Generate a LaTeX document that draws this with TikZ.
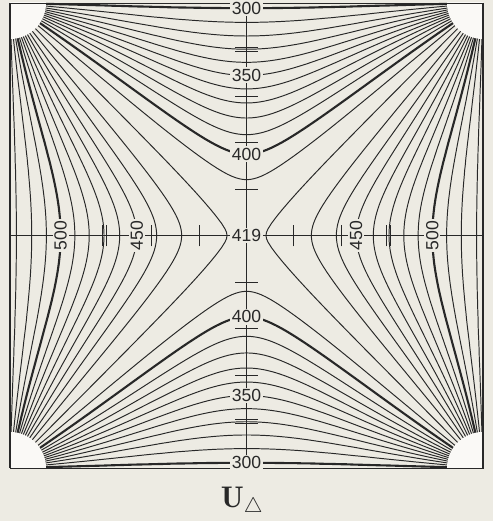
\documentclass[tikz,border=0pt]{standalone}
\usepackage{fontspec}
\setsansfont{Liberation Sans}
\definecolor{paper}{RGB}{237,235,227}
\definecolor{ink}{RGB}{40,40,40}
\definecolor{padwhite}{RGB}{250,249,246}
\tikzset{
  declare function={
    pp(\a,\t)=2*sin((\a+\t)/2)/sin(\a)*sin((\a-\t)/2);
    qq(\a,\t)=sin(\t)/sin(\a);
    rr(\a,\t)=sqrt(veclen(50*pp(\a,\t),50*qq(\a,\t))/50);
    hh(\a,\t)=tan(atan2(qq(\a,\t),pp(\a,\t))/2);
  },
  isoline/.style={draw=ink,line width=0.55pt},
  axisline/.style={draw=ink,line width=0.55pt},
  tickmark/.style={draw=ink,line width=0.55pt},
  value/.style={fill=paper,inner sep=1pt,text=ink,font=\sffamily\fontsize{10}{12}\selectfont}
}

\begin{document}
\begin{tikzpicture}[x=4.73cm,y=4.65cm]
  \fill[paper] (-1.0423,-1.228) rectangle (1.0423,1.0129);
  \useasboundingbox (-1.0423,-1.228) rectangle (1.0423,1.0129);
  % upper and lower lines, 300 ... 410
  \foreach \c in {300,310,...,410}{
    \pgfmathsetmacro\al{(419-\c)/245*180}
    \def\lw{0.55}
    \ifnum\c=300 \def\lw{1.2}\fi
    \ifnum\c=400 \def\lw{1.2}\fi
    \foreach \sg in {1,-1}
      \draw[isoline,line width=\lw pt] plot[domain=-0.985:0.985,samples=81,variable=\q]
        ({-rr(\al,\al*\q*abs(\q))*hh(\al,\al*\q*abs(\q))},{\sg*rr(\al,\al*\q*abs(\q))});
  }
  % left and right lines, 420 ... 530
  \foreach \c in {420,430,...,530}{
    \pgfmathsetmacro\al{(\c-419)/230*180}
    \def\lw{0.55}
    \ifnum\c=500 \def\lw{1.2}\fi
    \foreach \sg in {1,-1}
      \draw[isoline,line width=\lw pt] plot[domain=-0.985:0.985,samples=81,variable=\q]
        ({\sg*rr(\al,\al*\q*abs(\q))},{rr(\al,\al*\q*abs(\q))*hh(\al,\al*\q*abs(\q))});
  }
  % corner pads
  \begin{scope}
    \clip (-1,-1) rectangle (1,1);
    \foreach \cx/\cy in {-1/1,1/1,-1/-1,1/-1}
      \fill[padwhite] (\cx,\cy) circle[radius=0.72cm];
  \end{scope}
  % axes and ticks
  \draw[axisline] (-1,0) -- (1,0);
  \draw[axisline] (0,-1) -- (0,1);
  \foreach \t in {-0.4,-0.2,0.2,0.4,-0.608,-0.592,0.592,0.608}
    \draw[tickmark] (\t,-0.047) -- (\t,0.047);
  \foreach \t in {-0.6,-0.4,-0.2,0.2,0.4,0.6,-0.808,-0.792,0.792,0.808}
    \draw[tickmark] (-0.047,\t) -- (0.047,\t);
  % frame
  \draw[ink,line width=0.55pt] (-1,-1) rectangle (1,1);
  \draw[ink,line width=1.1pt] (-1,-1) -- (-1,1) (1,-1) -- (1,1);
  % values
  \node[value] (top300) at (0,{sqrt(tan(90*119/245))}) {300};
  \node[value] (top350) at (0,{sqrt(tan(90*69/245))}) {350};
  \node[value] (top400) at (0,{sqrt(tan(90*19/245))}) {400};
  \node[value] (bot400) at (0,{-sqrt(tan(90*19/245))}) {400};
  \node[value] (bot350) at (0,{-sqrt(tan(90*69/245))}) {350};
  \node[value] (bot300) at (0,{-sqrt(tan(90*119/245))}) {300};
  \node[value,rotate=90] (left500) at ({-sqrt(tan(90*81/230))},0) {500};
  \node[value,rotate=90] (left450) at ({-sqrt(tan(90*31/230))},0) {450};
  \node[value,rotate=90] (right450) at ({sqrt(tan(90*31/230))},0) {450};
  \node[value,rotate=90] (right500) at ({sqrt(tan(90*81/230))},0) {500};
  \node[value] (mid) at (0,0) {419};
  \node[anchor=base west,text=ink,font=\fontsize{17}{20}\selectfont] (caption) at (-0.135,-1.172) {$\mathbf{U}_{\triangle}$};
\end{tikzpicture}
\end{document}
